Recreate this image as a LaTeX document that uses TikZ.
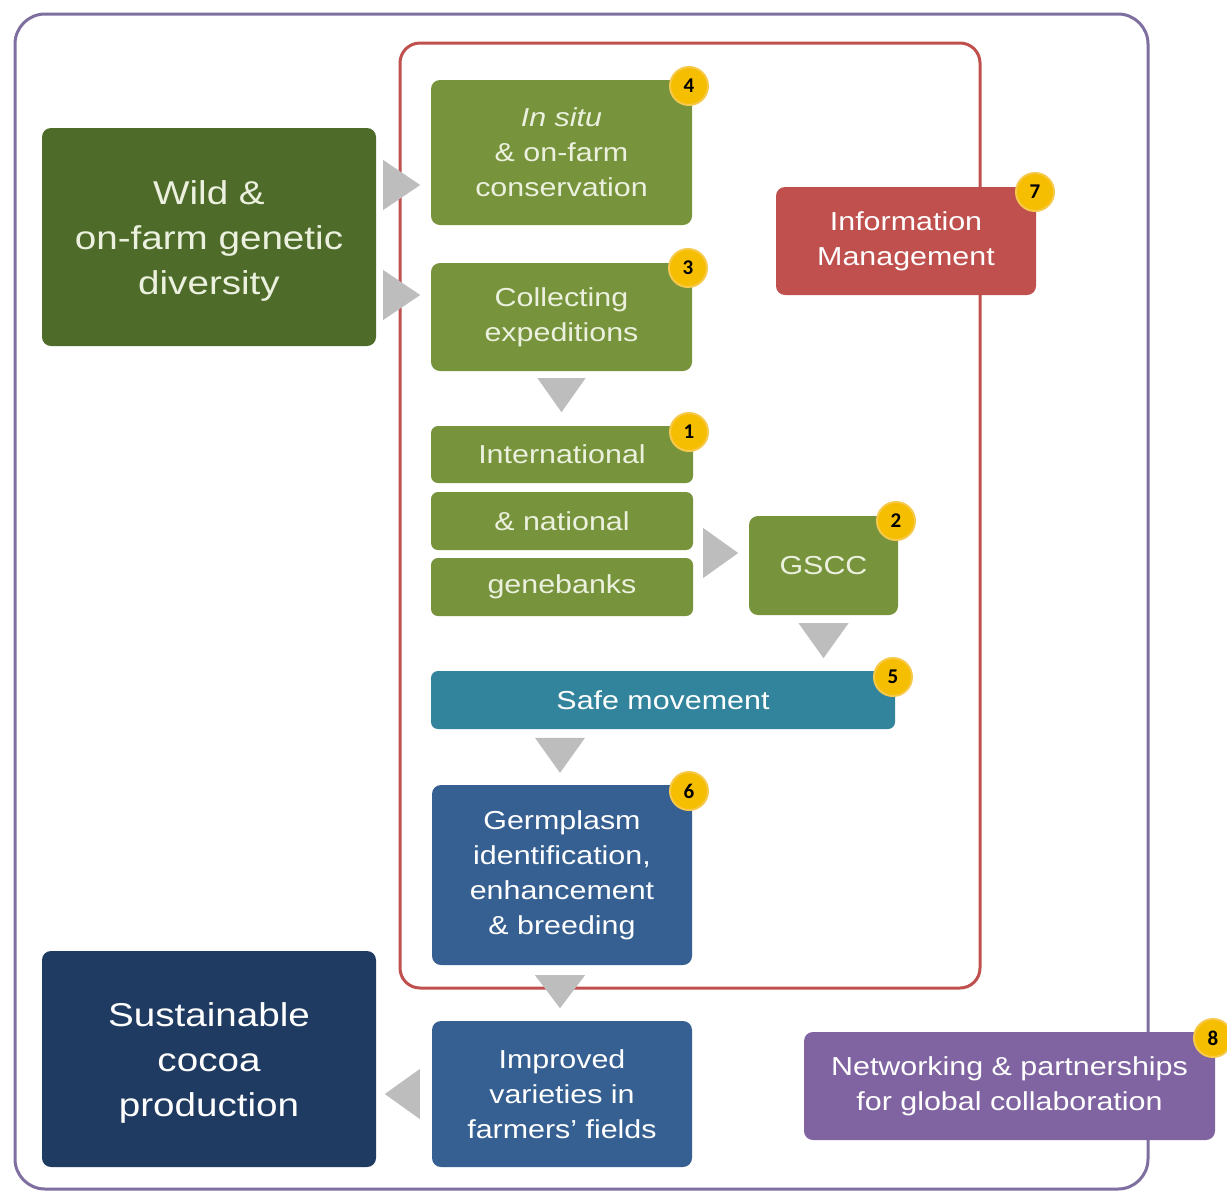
\documentclass[tikz,border=0pt]{standalone}
\usepackage{fontspec}
\setmainfont[FakeStretch=1.17]{Liberation Sans}
\newfontfamily\badgefont{Carlito}
\usetikzlibrary{calc}
\definecolor{wildgreen}{HTML}{4E6B2A}
\definecolor{midgreen}{HTML}{77933C}
\definecolor{greentext}{HTML}{EBF1DE}
\definecolor{tealbox}{HTML}{31849B}
\definecolor{bluebox}{HTML}{376092}
\definecolor{navybox}{HTML}{203B61}
\definecolor{redbox}{HTML}{C0504D}
\definecolor{purplebox}{HTML}{8064A2}
\definecolor{outerframe}{HTML}{7F6FA0}
\definecolor{innerframe}{HTML}{C0504D}
\definecolor{trigray}{HTML}{BDBDBD}
\definecolor{badgefill}{HTML}{F5BE00}
\definecolor{badgeedge}{HTML}{F7C94A}
\tikzset{
  box/.style={rounded corners=9pt, inner sep=0pt, align=center, text=white},
  gbox/.style={box, fill=midgreen, text=greentext, font=\fontsize{26}{35}\selectfont},
  bigbox/.style={box},
  bigtext/.style={align=center, inner sep=0pt, yshift=-4pt, font=\fontsize{33}{45}\selectfont},
  midbox/.style={box, font=\fontsize{26}{35}\selectfont},
  badge/.style={circle, fill=badgefill, draw=badgeedge, line width=2pt, minimum size=38pt, inner sep=0pt, font=\badgefont\bfseries\fontsize{21}{21}\selectfont, text=black},
  tri/.style={fill=trigray},
  frame/.style={line width=3pt, rounded corners=30pt}
}
\begin{document}
\begin{tikzpicture}[x=1pt,y=-1pt]
\useasboundingbox (0,0) rectangle (1227,1192);
\fill[white] (0,0) rectangle (1227,1192);
% frames
\draw[frame, outerframe] (15,14) rectangle (1148,1189);
\draw[frame, innerframe, rounded corners=20pt] (400,43) rectangle (980,988);

% left boxes
\node[bigbox, fill=wildgreen, minimum width=334pt, minimum height=218pt,
  label={[bigtext, text=greentext]center:Wild \&\\on-farm genetic\\diversity}] (wild) at (209,237) {};
\node[bigbox, fill=navybox, minimum width=334pt, minimum height=216pt,
  label={[bigtext, text=white]center:Sustainable\\cocoa\\production}] (sust) at (209,1059) {};

% green column
\node[gbox, minimum width=261pt, minimum height=145pt] (insitu) at (561.5,152.5) {\itshape In situ\\\& on-farm\\conservation};
\node[gbox, minimum width=261pt, minimum height=108pt] (collect) at (561.5,317) {Collecting\\expeditions};
\node[gbox, minimum width=262pt, minimum height=57pt, rounded corners=7pt] (intl) at (562,454.5) {International};
\node[gbox, minimum width=262pt, minimum height=58pt, rounded corners=7pt] (natl) at (562,521) {\& national};
\node[gbox, minimum width=262pt, minimum height=58pt, rounded corners=7pt] (gene) at (562,587) {genebanks};
\node[gbox, minimum width=149pt, minimum height=99pt] (gscc) at (823.5,565.5) {GSCC};
\node[midbox, fill=tealbox, minimum width=464pt, minimum height=58pt, rounded corners=7pt] (safe) at (663,700) {Safe movement};
\node[midbox, fill=bluebox, minimum width=260pt, minimum height=180pt] (germ) at (562,875) {Germplasm\\identification,\\enhancement\\\& breeding};
\node[midbox, fill=bluebox, minimum width=260pt, minimum height=146pt] (impr) at (562,1094) {Improved\\varieties in\\farmers' fields};

% side boxes
\node[midbox, fill=redbox, minimum width=260pt, minimum height=108pt] (info) at (906,241) {Information\\Management};
\node[midbox, fill=purplebox, minimum width=411pt, minimum height=108pt] (netw) at (1009.5,1086) {Networking \& partnerships\\for global collaboration};

% triangles
\fill[tri] ($(wild.east)+(7,-77)$) -- ++(37,25) -- ++(-37,25) -- cycle;
\fill[tri] ($(wild.east)+(7,33)$) -- ++(37,25) -- ++(-37,25) -- cycle;
\fill[tri] ($(collect.south)+(-24,7)$) -- ++(48,0) -- ++(-24,34) -- cycle;
\fill[tri] ($(natl.east)+(10,7)$) -- ++(35,25) -- ++(-35,25) -- cycle;
\fill[tri] ($(gscc.south)+(-25,8)$) -- ++(50,0) -- ++(-25,35) -- cycle;
\fill[tri] ($(germ.north)+(-27,-47)$) -- ++(50,0) -- ++(-25,35) -- cycle;
\fill[tri] ($(germ.south)+(-27,10)$) -- ++(50,0) -- ++(-25,33) -- cycle;
\fill[tri] ($(impr.west)+(-12,-25)$) -- ++(0,50) -- ++(-35,-25) -- cycle;

% badges
\node[badge] (b4) at (689,86) {4};
\node[badge] (b3) at (688,268) {3};
\node[badge] (b1) at (689,432) {1};
\node[badge] (b2) at (896,521) {2};
\node[badge] (b5) at (893,677) {5};
\node[badge] (b6) at (689,791) {6};
\node[badge] (b7) at (1035,192) {7};
\node[badge] (b8) at (1213,1038) {8};
\end{tikzpicture}
\end{document}
